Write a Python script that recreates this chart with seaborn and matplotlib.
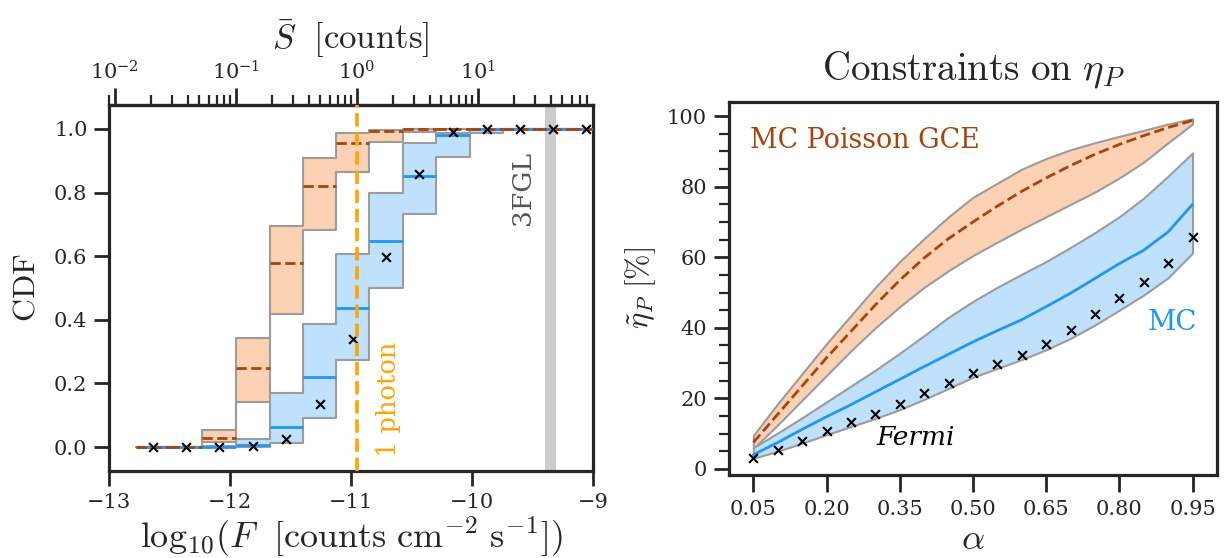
import numpy as np
import matplotlib
matplotlib.use("Agg")
import matplotlib.pyplot as plt
import seaborn as sns

# ---- left panel: flux CDF per bin ----
logF_edges = [-12.78, -12.50, -12.23, -11.95, -11.67, -11.40, -11.12, -10.85,
              -10.57, -10.30, -10.02, -9.74, -9.47, -9.19, -8.92]
pois_lo  = [0, 0, 0.015, 0.142, 0.419, 0.681, 0.866, 0.960, 0.990, 1, 1, 1, 1, 1]
pois_med = [0, 0, 0.028, 0.249, 0.579, 0.821, 0.955, 0.992, 1.000, 1, 1, 1, 1, 1]
pois_hi  = [0, 0, 0.053, 0.342, 0.696, 0.910, 0.988, 0.997, 1.000, 1, 1, 1, 1, 1]
mc_lo    = [0, 0, 0.000, 0.000, 0.012, 0.090, 0.273, 0.500, 0.734, 0.913, 0.987, 1, 1, 1]
mc_med   = [0, 0, 0.000, 0.008, 0.062, 0.220, 0.438, 0.649, 0.853, 0.981, 1.000, 1, 1, 1]
mc_hi    = [0, 0, 0.005, 0.027, 0.171, 0.388, 0.608, 0.798, 0.955, 0.987, 0.998, 1, 1, 1]
fermi_cdf = [0, 0, 0, 0.003, 0.025, 0.135, 0.341, 0.597, 0.859, 0.990, 1, 1, 1, 1]
one_photon_logF = -10.953
fgl_band = (-9.40, -9.31)

# ---- right panel: eta_P vs alpha ----
alpha = [0.05, 0.10, 0.15, 0.20, 0.25, 0.30, 0.35, 0.40, 0.45, 0.50,
         0.55, 0.60, 0.65, 0.70, 0.75, 0.80, 0.85, 0.90, 0.95]
eta_pois_med = [7.5, 15.5, 23.5, 31.5, 39.0, 46.5, 53.5, 59.8, 65.3, 70.0,
                74.5, 78.7, 82.5, 86.0, 89.2, 92.0, 94.5, 96.8, 98.8]
eta_pois_hi  = [9.5, 18.5, 27.0, 35.5, 43.5, 51.5, 58.8, 65.3, 71.5, 77.0,
                81.0, 85.0, 88.0, 90.5, 92.5, 94.3, 96.0, 97.8, 99.3]
eta_pois_lo  = [5.8, 12.5, 19.5, 26.5, 33.5, 40.0, 46.0, 51.5, 56.2, 60.5,
                64.3, 68.0, 71.5, 75.0, 78.5, 82.5, 87.0, 92.5, 97.8]
eta_mc_med = [4.0, 7.5, 11.2, 14.8, 18.2, 21.8, 25.4, 29.0, 32.5, 36.0,
              39.2, 42.3, 46.0, 49.8, 54.0, 58.2, 62.0, 67.2, 75.0]
eta_mc_hi  = [6.0, 10.2, 14.5, 19.0, 23.5, 28.0, 32.8, 37.8, 43.0, 47.5,
              51.5, 55.2, 58.8, 62.8, 67.0, 71.5, 76.8, 83.0, 89.6]
eta_mc_lo  = [3.0, 5.0, 7.3, 9.7, 12.0, 14.3, 16.8, 19.7, 22.8, 26.0,
              28.5, 31.0, 33.8, 37.0, 40.8, 45.0, 49.3, 54.2, 61.2]
eta_fermi  = [3.0, 5.4, 8.0, 10.7, 13.2, 15.6, 18.4, 21.4, 24.3, 27.2,
              29.7, 32.2, 35.5, 39.5, 43.9, 48.5, 52.9, 58.3, 65.7]
alpha_ticks = [0.05, 0.20, 0.35, 0.50, 0.65, 0.80, 0.95]

BROWN = "#a8440b"
BLUE = "#2196f3"
ORANGE_FILL = "#fdd1b3"
BLUE_FILL = "#bfe1fb"
EDGE = "#9c9c9c"

sns.set_theme(style="ticks")
plt.rcParams.update({
    "font.family": ["DejaVu Serif"],
    "mathtext.fontset": "cm",
    "axes.linewidth": 2.3,
    "axes.edgecolor": "#262626",
    "xtick.major.width": 2.0,
    "ytick.major.width": 2.0,
    "xtick.minor.width": 1.6,
    "ytick.minor.width": 1.6,
    "xtick.labelsize": 15,
    "ytick.labelsize": 15,
    "xtick.color": "#262626",
    "ytick.color": "#262626",
})

fig = plt.figure(figsize=(12.26, 5.58), dpi=100)
ax1 = fig.add_axes([0.0889, 0.1559, 0.3948, 0.6559])
ax2 = fig.add_axes([0.5946, 0.149, 0.398, 0.668])

# ---------------- left ----------------
edges = np.array(logF_edges)
centers = 0.5 * (edges[:-1] + edges[1:])

ax1.axvspan(*fgl_band, color="#cccccc", lw=0, zorder=0)
ax1.fill_between(edges, pois_lo + [pois_lo[-1]], pois_hi + [pois_hi[-1]], step="post",
                 facecolor=ORANGE_FILL, edgecolor=EDGE, lw=1.5, zorder=1)
ax1.fill_between(edges, mc_lo + [mc_lo[-1]], mc_hi + [mc_hi[-1]], step="post",
                 facecolor=BLUE_FILL, edgecolor=EDGE, lw=1.5, zorder=1)
ax1.hlines(mc_med, edges[:-1], edges[1:], colors=BLUE, lw=2, zorder=3)
ax1.hlines(pois_med, edges[:-1], edges[1:], colors=BROWN, lw=2, linestyles="--", zorder=4)
sns.scatterplot(x=centers, y=fermi_cdf, marker="x", color="black", s=40,
                linewidth=1.5, ax=ax1, zorder=5)
ax1.axvline(one_photon_logF, color="#ffa500", lw=2.6, ls="--", zorder=6)
ax1.text(-10.69, 0.15, "1 photon", rotation=90, color="#ffa500", fontsize=18.5,
         ha="center", va="center")
ax1.text(-9.58, 0.815, "3FGL", rotation=90, color="#555555", fontsize=19,
         ha="center", va="center")

ax1.set_xlim(-13, -9)
ax1.set_ylim(-0.075, 1.075)
ax1.set_xticks([-13, -12, -11, -10, -9])
ax1.set_yticks([0.0, 0.2, 0.4, 0.6, 0.8, 1.0])
ax1.tick_params(axis="both", which="major", length=10.5, pad=5, direction="out")
ax1.set_ylabel(r"$\mathrm{CDF}$", fontsize=23, labelpad=9)
ax1.set_xlabel(r"$\mathrm{log}_{10}(F\ \ [\mathrm{counts\ cm^{-2}\ s^{-1}}])$",
               fontsize=26, labelpad=2)

sec = ax1.secondary_xaxis(
    "top",
    functions=(lambda x: 10 ** (x - one_photon_logF),
               lambda s: np.log10(np.clip(s, 1e-30, None)) + one_photon_logF))
sec.set_xscale("log")
sec.tick_params(which="major", length=12, width=2.0, labelsize=15)
sec.tick_params(which="minor", length=7, width=1.6)
sec.set_xlabel(r"$\bar{S}\ \ [\mathrm{counts}]$", fontsize=25, labelpad=8)
sec.spines["top"].set_linewidth(2.3)

# ---------------- right ----------------
ax2.fill_between(alpha, eta_pois_lo, eta_pois_hi, facecolor=ORANGE_FILL,
                 edgecolor=EDGE, lw=1.5, zorder=1)
ax2.fill_between(alpha, eta_mc_lo, eta_mc_hi, facecolor=BLUE_FILL,
                 edgecolor=EDGE, lw=1.5, zorder=1)
sns.lineplot(x=alpha, y=eta_mc_med, color=BLUE, lw=2, ax=ax2, zorder=3)
sns.lineplot(x=alpha, y=eta_pois_med, color=BROWN, lw=2, ls="--", ax=ax2, zorder=4)
sns.scatterplot(x=alpha, y=eta_fermi, marker="x", color="black", s=40,
                linewidth=1.5, ax=ax2, zorder=5)

ax2.text(0.044, 93.2, "MC Poisson GCE", color=BROWN, fontsize=19.4, ha="left", va="center")
ax2.text(0.959, 41.5, "MC", color=BLUE, fontsize=20, ha="right", va="center")
ax2.text(0.383, 9.0, "Fermi", color="black", fontsize=19, style="italic",
         ha="center", va="center")

ax2.set_xlim(0.0, 1.0)
ax2.set_ylim(-1.7, 104)
ax2.set_xticks(alpha_ticks)
ax2.set_xticklabels([f"{a:.2f}" for a in alpha_ticks])
ax2.set_yticks([0, 20, 40, 60, 80, 100])
ax2.set_yticks(np.arange(0, 101, 5), minor=True)
ax2.tick_params(axis="x", which="major", length=12, pad=6)
ax2.tick_params(axis="y", which="major", length=11, pad=5)
ax2.tick_params(axis="y", which="minor", length=7)
ax2.set_xlabel(r"$\alpha$", fontsize=26, labelpad=2)
ax2.set_ylabel(r"$\tilde{\eta}_P\ [\%]$", fontsize=22, labelpad=6)
ax2.set_title(r"$\mathrm{Constraints\ on}\ \eta_P$", fontsize=28, pad=16)

fig.savefig("out.png", dpi=100)
